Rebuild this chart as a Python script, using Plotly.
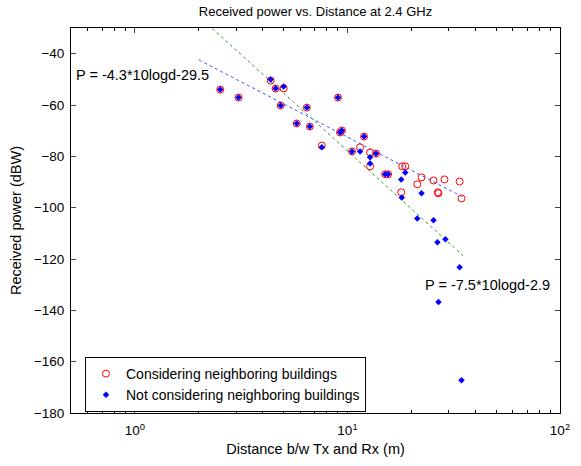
import numpy as np
import plotly.graph_objects as go

# Considering neighboring buildings (red circles)
dist_with = [2.52, 3.07, 4.35, 4.59, 5.01, 4.85, 6.44, 5.77, 6.65, 9.02, 9.42, 9.22,
             11.97, 7.57, 10.5, 11.46, 12.77, 12.77, 13.63, 15.04, 15.54, 18.1, 18.7,
             17.9, 21.3, 22.3, 25.4, 26.8, 26.6, 28.6, 33.7, 34.4]
power_with = [-54.0, -57.1, -50.5, -53.6, -53.5, -60.2, -61.0, -67.2, -68.4, -57.1, -69.9, -70.7,
              -72.3, -75.8, -78.1, -76.5, -78.5, -83.9, -78.9, -87.0, -87.0, -83.9, -83.9,
              -94.0, -90.9, -88.2, -89.4, -94.4, -94.0, -89.0, -89.8, -96.4]

# Not considering neighboring buildings (blue points)
dist_without = [2.52, 3.07, 4.35, 4.59, 5.01, 4.85, 6.44, 5.77, 6.65, 9.02, 9.42, 9.22,
                11.97, 7.57, 10.5, 11.46, 12.77, 12.77, 13.63, 15.04, 15.54, 18.7,
                17.9, 18.0, 21.3, 22.3, 25.4, 26.5, 26.8, 28.9, 33.7, 34.4]
power_without = [-54.0, -57.1, -50.1, -53.6, -52.8, -60.2, -61.0, -67.2, -68.4, -57.1, -69.9, -70.7,
                 -72.3, -76.5, -78.1, -78.1, -80.4, -82.8, -78.9, -87.0, -87.0, -86.3,
                 -89.0, -96.0, -104.2, -94.4, -104.9, -113.5, -136.8, -112.3, -123.2, -167.2]

# Fitted models: P = slope*10*log10(d) + intercept
fit_range = [2.0, 35.0]
fit1_slope, fit1_intercept = -4.3, -29.5
fit2_slope, fit2_intercept = -7.5, -2.9

x_tickvals = [1, 10, 100]
x_ticktext = ["10<sup>0</sup>", "10<sup>1</sup>", "10<sup>2</sup>"]
x_minor = [0.6, 0.7, 0.8, 0.9, 2, 3, 4, 5, 6, 7, 8, 9, 20, 30, 40, 50, 60, 70, 80, 90]
y_tickvals = [-180, -160, -140, -120, -100, -80, -60, -40]

fr = np.array(fit_range)
fit1 = fit1_slope * 10 * np.log10(fr) + fit1_intercept
fit2 = fit2_slope * 10 * np.log10(fr) + fit2_intercept

FONT = "Liberation Sans"

fig = go.Figure()
fig.add_trace(go.Scatter(x=fr, y=fit1, mode="lines", showlegend=False,
                         line=dict(color="#4a4aff", width=1, dash="3px,3px")))
fig.add_trace(go.Scatter(x=fr, y=fit2, mode="lines", showlegend=False,
                         line=dict(color="#3a9a3a", width=1, dash="3px,3px")))
fig.add_trace(go.Scatter(x=dist_with, y=power_with, mode="markers",
                         name="Considering neighboring buildings",
                         marker=dict(symbol="circle-open", size=7, color="#ff0000",
                                     line=dict(width=1, color="#ff0000"))))
fig.add_trace(go.Scatter(x=dist_without, y=power_without, mode="markers",
                         name="Not considering neighboring buildings",
                         marker=dict(symbol="diamond", size=5, color="#0000ff",
                                     line=dict(width=0))))

fig.add_annotation(x=np.log10(0.515), y=-48.5, xref="x", yref="y",
                   text="P = -4.3*10logd-29.5", showarrow=False,
                   xanchor="left", yanchor="middle", font=dict(size=14.5, color="black", family=FONT))
fig.add_annotation(x=np.log10(22.7), y=-130.2, xref="x", yref="y",
                   text="P = -7.5*10logd-2.9", showarrow=False,
                   xanchor="left", yanchor="middle", font=dict(size=14.5, color="black", family=FONT))

fig.update_layout(
    width=581, height=466,
    margin=dict(l=71, r=21, t=28, b=53),
    paper_bgcolor="white", plot_bgcolor="white",
    font=dict(family=FONT, size=13, color="black"),
    title=dict(text="Received power vs. Distance at 2.4 GHz", x=0.543, xanchor="center",
               y=0.975, yanchor="middle", font=dict(size=13, color="black")),
    legend=dict(x=0.0286, y=0.1455, xanchor="left", yanchor="top",
                bordercolor="black", borderwidth=1, bgcolor="white",
                font=dict(size=14, color="black"), tracegroupgap=0),
    showlegend=True,
)
fig.update_xaxes(type="log", range=[np.log10(0.5), 2], tickvals=x_tickvals, ticktext=x_ticktext,
                 ticks="inside", ticklen=5, showline=True, linecolor="black", linewidth=1,
                 mirror="allticks", showgrid=False, zeroline=False, ticklabelstandoff=5,
                 minor=dict(tickvals=x_minor, ticks="inside", ticklen=3, tickcolor="black", showgrid=False),
                 title=dict(text="Distance b/w Tx and Rx (m)", standoff=6, font=dict(size=14.5, color="black")),
                 tickfont=dict(size=13.5, color="black"))
fig.update_yaxes(range=[-180, -30], tickvals=y_tickvals,
                 ticks="inside", ticklen=5, showline=True, linecolor="black", linewidth=1,
                 mirror="allticks", showgrid=False, zeroline=False, ticklabelstandoff=3,
                 title=dict(text="Received power (dBW)", standoff=8, font=dict(size=14.5, color="black")),
                 tickfont=dict(size=13.5, color="black"))

fig.write_html("out.html")
